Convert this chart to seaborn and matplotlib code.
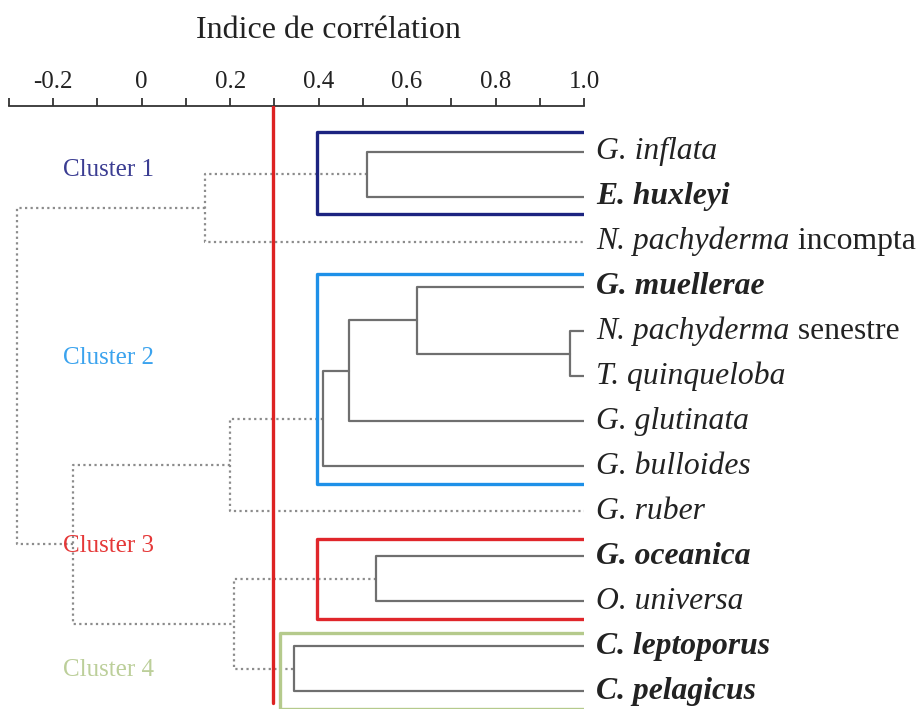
import numpy as np
import pandas as pd
import matplotlib
matplotlib.use('Agg')
import matplotlib.pyplot as plt
import seaborn as sns

# Leaves, top to bottom
taxa = ['G. inflata', 'E. huxleyi', 'N. pachyderma incompta', 'G. muellerae',
        'N. pachyderma senestre', 'T. quinqueloba', 'G. glutinata', 'G. bulloides',
        'G. ruber', 'G. oceanica', 'O. universa', 'C. leptoporus', 'C. pelagicus']
bold_taxa = ['E. huxleyi', 'G. muellerae', 'G. oceanica', 'C. leptoporus', 'C. pelagicus']

# Merges (new node ids continue after the leaves: 13, 14, ...)
merge_left = [0, 13, 4, 3, 16, 17, 18, 9, 11, 20, 19, 14]
merge_right = [1, 2, 5, 15, 6, 7, 8, 10, 12, 21, 22, 23]
merge_corr = [0.51, 0.143, 0.968, 0.623, 0.468, 0.411, 0.20, 0.53, 0.345, 0.209, -0.155, -0.282]

threshold = 0.297

cluster_names = ['Cluster 1', 'Cluster 2', 'Cluster 3', 'Cluster 4']
cluster_first = [0, 3, 9, 11]
cluster_last = [1, 7, 10, 12]
cluster_cut = [0.397, 0.397, 0.397, 0.313]

tick_vals = [-0.2, 0, 0.2, 0.4, 0.6, 0.8, 1.0]
tick_labels = ['-0.2', '0', '0.2', '0.4', '0.6', '0.8', '1.0']

# styling
box_colors = ['#1c2480', '#1e90e8', '#e0262b', '#b5ca8c']
label_colors = ['#3b3d92', '#3ba3ee', '#e53838', '#bccf9a']
box_pad_top = [0.44, 0.29, 0.39, 0.30]
box_pad_bot = 0.39
label_y = [0.41, 4.59, 8.77, 11.53]

sns.set_theme(style='white')
plt.rcParams['font.family'] = ['Liberation Serif', 'DejaVu Serif']

# build dendrogram polylines (U shapes)
n = len(taxa)
node_x = {i: 1.0 for i in range(n)}
node_y = {i: float(i) for i in range(n)}
rows = []
for k, (a, b, h) in enumerate(zip(merge_left, merge_right, merge_corr)):
    kind = 'solid' if h > threshold else 'dotted'
    pts = [(node_x[a], node_y[a]), (h, node_y[a]), (h, node_y[b]), (node_x[b], node_y[b])]
    for px, py in pts:
        rows.append((k, px, py, kind))
    node_x[n + k] = h
    node_y[n + k] = (node_y[a] + node_y[b]) / 2
links = pd.DataFrame(rows, columns=['seg', 'x', 'y', 'kind'])

box_rows = []
for c in range(len(cluster_names)):
    top = cluster_first[c] - box_pad_top[c]
    bot = cluster_last[c] + box_pad_bot
    for px, py in [(1.0, top), (cluster_cut[c], top), (cluster_cut[c], bot), (1.0, bot)]:
        box_rows.append((cluster_names[c], px, py))
boxes = pd.DataFrame(box_rows, columns=['cluster', 'x', 'y'])

fig = plt.figure(figsize=(9.18, 7.09), dpi=100)
ax = fig.add_axes([9 / 918, 0, 575 / 918, 603 / 709])

sns.lineplot(data=links[links.kind == 'dotted'], x='x', y='y', units='seg', estimator=None,
             sort=False, color='#8c8c8c', lw=1.6, linestyle=(0, (1, 1.5)), ax=ax, zorder=1)
sns.lineplot(data=links[links.kind == 'solid'], x='x', y='y', units='seg', estimator=None,
             sort=False, color='#6f6f6f', lw=1.6, ax=ax, zorder=2)
sns.lineplot(data=boxes, x='x', y='y', hue='cluster', units='cluster', estimator=None,
             sort=False, palette=box_colors, lw=2.4, legend=False, ax=ax, zorder=3)
ax.axvline(threshold, ymin=6 / 603, ymax=1, color='#dd2222', lw=2.4, zorder=4)

ax.set_xlim(-0.3, 1.0)
ax.set_ylim(12.40, -1.017)
ax.set_xlabel('')
ax.set_ylabel('')
ax.set_yticks([])
ax.xaxis.set_ticks_position('top')
ax.set_xticks(tick_vals)
ax.set_xticklabels(tick_labels)
ax.set_xticks([v for v in np.arange(-0.3, 1.01, 0.1) if min(abs(v - t) for t in tick_vals) > 1e-6], minor=True)
ax.tick_params(axis='x', which='both', top=True, bottom=False, labeltop=True, labelbottom=False,
               direction='out', length=6, width=1.3, color='#333333', labelsize=18,
               labelcolor='#222222', pad=3)
for s in ['left', 'right', 'bottom']:
    ax.spines[s].set_visible(False)
ax.spines['top'].set_color('#333333')
ax.spines['top'].set_linewidth(1.3)

leaf_fs = 22.8
for i, name in enumerate(taxa):
    if name in bold_taxa:
        ax.annotate(name, xy=(1.0, i), xytext=(9, 0), textcoords='offset points', va='center',
                    ha='left', fontsize=leaf_fs, color='#222222', style='italic', weight='bold',
                    annotation_clip=False)
    elif name.startswith('N. pachyderma'):
        genus, sp = name.rsplit(' ', 1)
        t1 = ax.annotate(genus, xy=(1.0, i), xytext=(9, 0), textcoords='offset points',
                         va='center', ha='left', fontsize=leaf_fs, color='#222222',
                         style='italic', annotation_clip=False)
        ax.annotate(' ' + sp, xy=(1, 0), xycoords=t1, va='bottom', ha='left',
                    fontsize=leaf_fs, color='#222222', annotation_clip=False)
    else:
        ax.annotate(name, xy=(1.0, i), xytext=(9, 0), textcoords='offset points', va='center',
                    ha='left', fontsize=leaf_fs, color='#222222', style='italic',
                    annotation_clip=False)

for c, name in enumerate(cluster_names):
    ax.text(-0.075, label_y[c], name, ha='center', va='center', fontsize=18,
            color=label_colors[c], zorder=5)

fig.text(328 / 918, 1 - 30 / 709, 'Indice de corrélation', ha='center', va='center',
         fontsize=23, color='#222222')

fig.savefig('out.png', dpi=100)
